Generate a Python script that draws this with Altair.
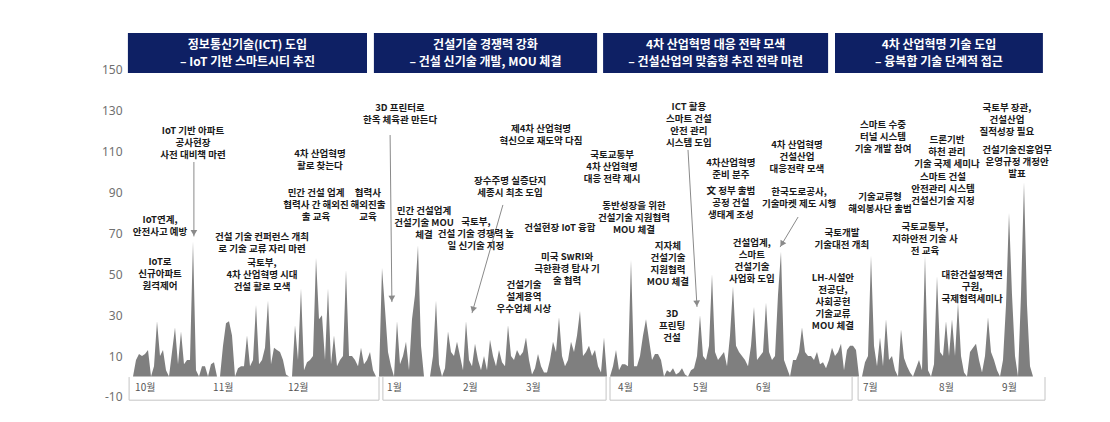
import math
import altair as alt
import pandas as pd

# ---------------- data ----------------
# daily-ish activity index (one value per step of the x index)
activity = [
    0, 0, 8, 11, 10, 11, 13, 0, 5, 27,
    10, 13, 3, 0, 12, 24, 6, 22, 6, 8,
    8, 66, 3, 0, 5, 5, 0, 6, 7, 0,
    0, 15, 26, 27, 20, 0, 4, 5, 5, 20,
    5, 8, 35, 6, 8, 14, 37, 6, 14, 13,
    12, 8, 1, 0, 0, 25, 8, 43, 3, 7,
    8, 10, 58, 28, 30, 8, 43, 6, 20, 5,
    8, 10, 52, 10, 10, 8, 5, 14, 6, 8,
    12, 3, 0, 0, 53, 33, 12, 5, 0, 27,
    6, 10, 17, 3, 28, 40, 64, 15, 0, 0,
    0, 10, 37, 6, 0, 4, 22, 12, 10, 17,
    10, 3, 27, 8, 5, 16, 8, 3, 10, 3,
    18, 10, 5, 13, 7, 5, 25, 10, 8, 13,
    10, 12, 19, 8, 1, 4, 11, 5, 2, 2,
    8, 17, 12, 29, 10, 5, 8, 17, 12, 20,
    32, 10, 12, 15, 10, 13, 5, 2, 19, 0,
    0, 5, 13, 3, 6, 6, 5, 57, 5, 5,
    10, 20, 28, 18, 8, 11, 11, 8, 0, 3,
    2, 4, 1, 2, 4, 1, 0, 3, 4, 10,
    30, 10, 8, 15, 50, 12, 8, 10, 12, 5,
    20, 44, 15, 12, 10, 8, 5, 15, 34, 8,
    10, 12, 36, 12, 8, 10, 40, 61, 8, 4,
    0, 8, 8, 12, 24, 12, 10, 10, 8, 12,
    6, 7, 4, 8, 14, 10, 12, 16, 3, 13,
    15, 15, 13, 0, 0, 7, 10, 59, 15, 5,
    19, 5, 28, 8, 10, 3, 0, 23, 9, 5,
    2, 0, 4, 8, 3, 59, 3, 0, 6, 49,
    12, 10, 27, 10, 28, 10, 36, 10, 2, 0,
    12, 14, 16, 8, 2, 10, 29, 12, 8, 3,
    0, 8, 35, 80, 40, 10, 0, 40, 95, 35,
    5, 0, 0, 0, 0, 0,
]

y_ticks = [-10, 10, 30, 50, 70, 90, 110, 130, 150]

# period headers
header_titles = ["정보통신기술(ICT) 도입", "건설기술 경쟁력 강화",
                 "4차 산업혁명 대응 전략 모색", "4차 산업혁명 기술 도입"]
header_subtitles = ["– IoT 기반 스마트시티 추진", "– 건설 신기술 개발, MOU 체결",
                    "– 건설산업의 맞춤형 추진 전략 마련", "– 융복합 기술 단계적 접근"]
header_start = [-0.7, 81.3, 157.7, 235.0]
header_end = [79.0, 155.7, 232.7, 304.3]

# quarter brackets under the series
quarter_start = [-0.3, 84.3, 160.0, 242.7]
quarter_end = [83.0, 158.7, 240.7, 305.0]

# month labels
month_labels = ["10월", "11월", "12월", "1월", "2월", "3월",
                "4월", "5월", "6월", "7월", "8월", "9월"]
month_pos = [1.7, 27.7, 52.7, 85.7, 111.0, 132.0,
             162.7, 187.7, 208.7, 244.3, 269.7, 290.7]

# event annotations: text lines, centre x, y of first line
note_text = [
    "IoT 기반 아파트\n공사현장\n사전 대비책 마련",
    "IoT연계,\n안전사고 예방",
    "IoT로\n신규아파트\n원격제어",
    "건설 기술 컨퍼런스 개최\n로 기술 교류 자리 마련",
    "국토부,\n4차 산업혁명 시대\n건설 활로 모색",
    "4차 산업혁명\n활로 찾는다",
    "민간 건설 업계\n협력사 간 해외진\n출 교육",
    "협력사\n해외진출\n교육",
    "3D 프린터로\n한옥 체육관 만든다",
    "제4차 산업혁명\n혁신으로 재도약 다짐",
    "민간 건설업계\n건설기술 MOU\n체결",
    "국토부,\n건설 기술 경쟁력 높\n일 신기술 지정",
    "장수주명 실증단지\n세종시 최초 도입",
    "건설현장 IoT 융합",
    "미국 SwRI와\n극한환경 탐사 기\n술 협력",
    "건설기술\n설계용역\n우수업체 시상",
    "국토교통부\n4차 산업혁명\n대응 전략 제시",
    "동반성장을 위한\n건설기술 지원협력\nMOU 체결",
    "ICT 활용\n스마트 건설\n안전 관리\n시스템 도입",
    "4차산업혁명\n준비 분주",
    "文 정부 출범\n공정 건설\n생태계 조성",
    "4차 산업혁명\n건설산업\n대응전략 모색",
    "한국도로공사,\n기술마켓 제도 시행",
    "지자체\n건설기술\n지원협력\nMOU 체결",
    "건설업계,\n스마트\n건설기술\n사업화 도입",
    "3D\n프린팅\n건설",
    "국토개발\n기술대전 개최",
    "LH-시설안\n전공단,\n사회공헌\n기술교류\nMOU 체결",
    "스마트 수중\n터널 시스템\n기술 개발 참여",
    "기술교류형\n해외봉사단 출범",
    "드론기반\n하천 관리\n기술 국제 세미나",
    "스마트 건설\n안전관리 시스템\n건설신기술 지정",
    "국토교통부,\n지하안전 기술 사\n전 교육",
    "대한건설정책연\n구원,\n국제협력세미나",
    "국토부 장관,\n건설산업\n질적성장 필요",
    "건설기술진흥업무\n운영규정 개정안\n발표",
]
note_x = [21.0, 10.0, 10.0, 44.0, 44.0, 63.3, 62.0, 79.3,
          90.0, 137.0, 98.0, 115.3, 126.7, 143.3, 145.7, 131.3,
          160.7, 168.0, 186.3, 200.3, 200.3, 222.3, 223.0, 179.3,
          207.3, 180.7, 237.3, 234.3,
          251.0, 250.0, 272.3, 271.0, 265.0, 280.7, 292.3, 295.7]
note_y = [120.1, 76.5, 56.0, 68.2, 55.5, 108.8, 89.7, 89.7,
          131.3, 121.0, 80.9, 75.5, 95.6, 72.6, 58.4, 44.7,
          108.3, 83.4, 131.8, 104.4, 90.7, 113.2, 90.2, 63.8,
          65.3, 30.5, 70.2, 48.1,
          123.0, 87.8, 115.7, 97.5, 73.1, 49.6, 131.3, 110.8]

# arrows (start -> tip)
arrow_x1 = [21.3, 86.7, 124.3, 186.0, 222.7]
arrow_y1 = [104.9, 118.1, 83.9, 110.8, 78.0]
arrow_x2 = [21.3, 87.3, 114.0, 189.0, 216.7]
arrow_y2 = [68.5, 36.4, 31.0, 34.0, 63.3]

# ---------------- geometry ----------------
W, H = 915, 368
X_DOM = [0, 305]
Y_DOM = [-12, 168]
PX_X = W / (X_DOM[1] - X_DOM[0])
PX_Y = H / (Y_DOM[1] - Y_DOM[0])
LINE_H = 12 / PX_Y

KFONT = "Noto Sans CJK KR"

xs = alt.Scale(domain=X_DOM, nice=False, zero=False)
ys = alt.Scale(domain=Y_DOM, nice=False, zero=False)


def X(field):
    return alt.X(field, scale=xs, axis=None)


def Y(field):
    return alt.Y(field, scale=ys, title=None)


series_df = pd.DataFrame({"idx": list(range(len(activity))), "value": activity,
                          "base": [0] * len(activity)})

area = alt.Chart(series_df).mark_area(color="#7f7f7f", opacity=1, interpolate="linear").encode(
    x=X("idx:Q"),
    y=alt.Y("value:Q", scale=ys, stack=None, title=None,
            axis=alt.Axis(values=y_ticks, ticks=False, domain=False, grid=False,
                          labelPadding=8, labelFont="Noto Sans", labelFontSize=12,
                          labelColor="#707070", title=None,
                          labelExpr="'' + datum.value")),
    y2="base:Q",
)

# headers
hdr_df = pd.DataFrame({"x": header_start, "x2": header_end,
                       "y": [148.4] * 4, "y2": [168.0] * 4})
hdr_rect = alt.Chart(hdr_df).mark_rect(color="#0e2064").encode(
    x=X("x:Q"), x2="x2:Q", y=Y("y:Q"), y2="y2:Q")

hdr_rows = []
for t, s, a, b in zip(header_titles, header_subtitles, header_start, header_end):
    hdr_rows.append({"x": (a + b) / 2, "y": 161.9, "t": t})
    hdr_rows.append({"x": (a + b) / 2, "y": 153.9, "t": s})
hdr_text = alt.Chart(pd.DataFrame(hdr_rows)).mark_text(
    color="white", font=KFONT, fontSize=12, fontWeight="bold",
    align="center", baseline="middle").encode(
    x=X("x:Q"), y=Y("y:Q"), text="t:N")

# annotations
note_rows = []
for txt, x0, y0 in zip(note_text, note_x, note_y):
    for k, line in enumerate(txt.split("\n")):
        note_rows.append({"x": x0, "y": y0 - k * LINE_H, "t": line})
notes = alt.Chart(pd.DataFrame(note_rows)).mark_text(
    color="#1a1a1a", font=KFONT, fontSize=9.5, fontWeight="bold",
    align="center", baseline="middle").encode(
    x=X("x:Q"), y=Y("y:Q"), text="t:N")

# arrows
arr_df = pd.DataFrame({"x": arrow_x1, "y": arrow_y1, "x2": arrow_x2, "y2": arrow_y2})
arr_lines = alt.Chart(arr_df).mark_rule(color="#8a8a8a", strokeWidth=1).encode(
    x=X("x:Q"), x2="x2:Q", y=Y("y:Q"), y2="y2:Q")

head_rows = []
for x1, y1, x2, y2 in zip(arrow_x1, arrow_y1, arrow_x2, arrow_y2):
    dx = (x2 - x1) * PX_X
    dy = -(y2 - y1) * PX_Y
    ang = math.degrees(math.atan2(dx, -dy)) % 360
    L = math.hypot(dx, dy)
    back = 3.5
    hx = x2 - (dx / L) * back / PX_X
    hy = y2 + (dy / L) * back / PX_Y
    head_rows.append({"x": hx, "y": hy, "a": ang})
arr_heads = alt.Chart(pd.DataFrame(head_rows)).mark_point(
    shape="triangle-up", filled=True, color="#8a8a8a", size=45, opacity=1).encode(
    x=X("x:Q"), y=Y("y:Q"),
    angle=alt.Angle("a:Q", scale=None))

# quarter brackets
br_rows = []
for a, b in zip(quarter_start, quarter_end):
    br_rows.append({"x": a, "x2": a, "y": -0.3, "y2": -11.6})
    br_rows.append({"x": b, "x2": b, "y": -0.3, "y2": -11.6})
    br_rows.append({"x": a, "x2": b, "y": -11.6, "y2": -11.6})
brackets = alt.Chart(pd.DataFrame(br_rows)).mark_rule(color="#c4c4c4", strokeWidth=1).encode(
    x=X("x:Q"), x2="x2:Q", y=Y("y:Q"), y2="y2:Q")

months = alt.Chart(pd.DataFrame({"x": month_pos, "y": [-5.7] * len(month_pos),
                                 "t": month_labels})).mark_text(
    color="#555555", font=KFONT, fontSize=10, align="left", baseline="middle").encode(
    x=X("x:Q"), y=Y("y:Q"), text="t:N")

chart = alt.layer(
    area, brackets, hdr_rect, hdr_text, arr_lines, arr_heads, notes, months
).properties(
    width=W, height=H,
    autosize=alt.AutoSizeParams(type="none"),
    padding={"left": 122, "top": 25, "right": 57, "bottom": 13},
    background="white",
).configure_view(stroke=None)

chart.save("out.html", embed_options={"renderer": "svg", "actions": False})
